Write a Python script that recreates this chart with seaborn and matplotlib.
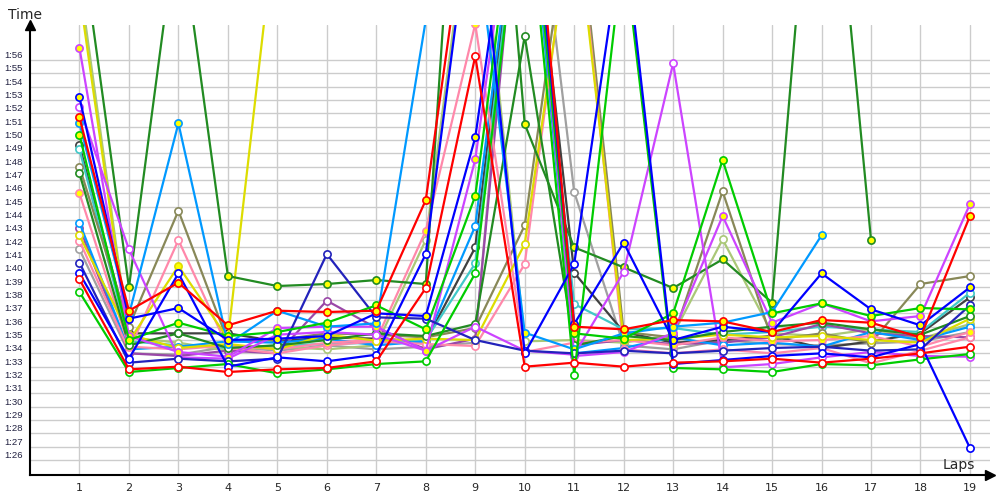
import numpy as np
import pandas as pd
import seaborn as sns
import matplotlib
matplotlib.use("Agg")
import matplotlib.pyplot as plt

# ---------------- data (lap times in seconds) ----------------
nan = np.nan
laps = list(range(1, 20))

red_y = [111.7, 97.2, 99.3, 96.1, 97.2, 97.1, 97.2, 105.5, 132, 138, 96.0, 95.8, 96.5, 96.4, 95.6, 96.5, 96.3, 95.2, 104.3]
red_w = [99.55, 92.8, 93.0, 92.6, 92.8, 92.9, 93.4, 98.9, 116.3, 93.0, 93.3, 93.0, 93.3, 93.4, 93.6, 93.3, 93.6, 94.0, 94.5]
blue_y = [113.2, 96.6, 97.4, 95.0, 95.1, 95.3, 97.0, 96.8, 110.2, 136, 96.2, 102.3, 95.0, 96.0, 95.6, 100.0, 97.3, 96.1, 98.95]
blue_w = [100.0, 93.6, 100.0, 93.0, 93.7, 93.4, 93.9, 101.45, 130, 94.0, 100.7, 126, 93.2, 93.5, 93.8, 94.0, 93.7, 94.7, 86.9]
green_y = [110.4, 95.0, 96.3, 95.3, 95.6, 96.3, 97.6, 95.8, 105.8, 134, 95.5, 95.1, 97.0, 108.5, 97.0, 97.75, 96.8, 97.4, 97.3]
green_w = [98.6, 92.6, 92.9, 93.2, 92.5, 92.8, 93.2, 93.4, 100.0, 131, 92.4, 124.6, 92.9, 92.8, 92.6, 93.2, 93.1, 93.55, 93.95]
dkgreen_y = [126, 98.95, 127, 99.8, 99.05, 99.2, 99.5, 99.2, 155, 111.2, 101.95, 100.45, 98.9, 101.05, 97.8, 141.5, 102.5, nan, nan]
dkgreen_w = [107.5, 94.6, 95.5, 94.4, 94.6, 95.0, 95.5, 95.3, 96.2, 117.8, 94.6, 95.3, 95.0, 95.6, 96.0, 96.3, 95.8, 95.4, 96.8]
yellow_y = [121, 94.9, 100.55, 95.1, 127.5, nan, nan, nan, nan, nan, nan, nan, nan, nan, nan, nan, nan, nan, nan]
yellow_w = [102.85, 95.4, 94.4, 94.7, 94.3, 95.4, 94.95, 95.1, 95.0, 102.2, 128, 95.0, 95.1, 95.4, 95.2, 95.3, 95.0, 94.8, 96.6]
ltblue_y = [111.25, 96.9, 111.25, 94.7, 97.2, 96.0, 96.25, 119, 126, 95.55, 94.3, 95.5, 96.0, 96.3, 97.1, 102.85, nan, nan, nan]
ltblue_w = [103.8, 94.3, 94.5, 94.9, 94.8, 95.1, 94.6, 94.9, 103.55, 133, 94.0, 94.4, 95.2, 94.6, 94.8, 94.5, 95.6, 95.0, 96.0]
pink_y = [106.0, 94.5, 94.3, 94.6, 94.3, 94.8, 95.0, 103.2, 118.7, 94.1, 94.8, 95.0, 94.6, 95.2, 94.9, 95.0, 95.3, 94.5, 95.6]
pink_w = [102.45, 94.2, 102.5, 94.4, 94.0, 94.6, 94.9, 94.7, 94.55, 100.7, 129, 94.3, 94.0, 94.3, 94.0, 94.4, 93.25, 94.2, 95.2]
purple_y = [116.9, 95.3, 94.1, 93.75, 95.9, 96.0, 96.0, 94.2, 108.55, 135, 93.8, 94.1, 95.5, 104.3, 96.3, 97.75, 96.4, 96.8, 105.2]
purple_w = [112.45, 101.8, 93.7, 93.6, 95.4, 95.6, 95.4, 94.2, 96.0, 94.2, 93.9, 100.1, 115.75, 92.95, 93.2, 93.7, 94.1, 93.8, 93.75]
olive_w = [108.0, 96.0, 104.7, 94.9, 95.0, 95.5, 95.4, 95.2, 95.9, 103.6, 130, 95.6, 95.2, 106.15, 95.0, 95.5, 94.8, 99.2, 99.8]
gray_w = [101.8, 94.0, 93.9, 94.5, 94.2, 94.6, 94.3, 94.5, 94.8, 137, 106.1, 94.6, 94.3, 95.0, 94.7, 94.6, 94.75, 94.9, 95.6]
dkgray_w = [109.6, 95.5, 95.5, 95.5, 94.9, 95.2, 95.1, 94.9, 101.95, 133, 100.05, 95.6, 94.8, 95.0, 95.3, 94.4, 94.9, 95.5, 98.2]
cyan_w = [109.3, 94.9, 94.6, 94.4, 94.6, 94.7, 94.8, 95.0, 100.75, 132, 97.7, 95.8, 95.9, 95.4, 95.6, 96.0, 95.8, 95.6, 98.55]
ltolive_w = [122, 95.2, 94.8, 94.2, 94.5, 94.3, 94.6, 102.5, 131, 94.9, 95.0, 94.8, 95.4, 102.55, 95.5, 95.3, 95.8, 95.1, 96.2]
dkblue_w = [100.8, 93.3, 93.6, 93.4, 93.6, 101.45, 96.7, 96.6, 95.0, 94.2, 94.0, 94.2, 94.0, 94.2, 94.4, 94.5, 94.2, 94.3, 97.6]
violet_w = [103.4, 94.0, 93.8, 94.2, 94.0, 97.95, 95.9, 94.3, 95.1, 134, 94.6, 95.0, 94.7, 94.8, 95.2, 96.2, 95.5, 95.3, 95.2]

# (name, times, line colour, marker fill)
drivers = [
    ("gray_w", gray_w, "#a0a0a0", "white"),
    ("dkgray_w", dkgray_w, "#404040", "white"),
    ("cyan_w", cyan_w, "#40c8c8", "white"),
    ("ltolive_w", ltolive_w, "#aac878", "white"),
    ("olive_w", olive_w, "#888858", "white"),
    ("violet_w", violet_w, "#9a48a8", "white"),
    ("ltblue_w", ltblue_w, "#0099ff", "white"),
    ("pink_w", pink_w, "#ff88aa", "white"),
    ("pink_y", pink_y, "#ff88aa", "yellow"),
    ("yellow_w", yellow_w, "#dddd00", "white"),
    ("yellow_y", yellow_y, "#dddd00", "yellow"),
    ("dkgreen_w", dkgreen_w, "#228b22", "white"),
    ("dkgreen_y", dkgreen_y, "#228b22", "yellow"),
    ("purple_w", purple_w, "#cc44ff", "white"),
    ("purple_y", purple_y, "#cc44ff", "yellow"),
    ("ltblue_y", ltblue_y, "#0099ff", "yellow"),
    ("dkblue_w", dkblue_w, "#2222bb", "white"),
    ("green_y", green_y, "#00cc00", "yellow"),
    ("green_w", green_w, "#00cc00", "white"),
    ("blue_y", blue_y, "#0000ff", "yellow"),
    ("blue_w", blue_w, "#0000ff", "white"),
    ("red_y", red_y, "#ff0000", "yellow"),
    ("red_w", red_w, "#ff0000", "white"),
]

rows = []
for name, times, col, fill in drivers:
    for lap, t in zip(laps, times):
        rows.append({"driver": name, "lap": lap, "time": t})
df = pd.DataFrame(rows).dropna()

ytick_vals = list(range(86, 117))
ytick_labels = [f"1:{v - 60:02d}" for v in ytick_vals]

# ---------------- plot ----------------
sns.set_style("white")
plt.rcParams["font.family"] = ["DejaVu Sans"]

fig = plt.figure(figsize=(10, 5), dpi=100)
ax = fig.add_axes([0.03, 0.05, 0.96, 0.90])

for name, times, col, fill in drivers:
    sns.lineplot(data=df[df["driver"] == name], x="lap", y="time", ax=ax,
                 color=col, lw=1.6, marker="o", markersize=5.2,
                 markerfacecolor=fill, markeredgecolor=col, markeredgewidth=1.2,
                 estimator=None, sort=False, legend=False)

ax.set_xlim(0, 19.405)
ax.set_ylim(84.875, 118.63)
ax.set_xticks(laps)
ax.set_xticklabels([str(l) for l in laps], fontsize=8)
ax.set_yticks(ytick_vals)
ax.set_yticklabels(ytick_labels, fontsize=6.8, color="#202040", family="Liberation Sans")
for lbl in ax.get_yticklabels():
    lbl.set_verticalalignment("bottom")
ax.tick_params(axis="both", length=0)
ax.tick_params(axis="y", pad=5)
ax.tick_params(axis="x", pad=6)
ax.set_xlabel("")
ax.set_ylabel("")

ax.grid(True, color="#cccccc", lw=1)
ax.set_axisbelow(True)
for s in ["top", "right"]:
    ax.spines[s].set_visible(False)
for s in ["left", "bottom"]:
    ax.spines[s].set_color("black")
    ax.spines[s].set_linewidth(1.5)

# axis arrows
ax.plot(0, 1, "^", color="black", ms=7, transform=ax.transAxes, clip_on=False)
ax.plot(1, 0, ">", color="black", ms=7, transform=ax.transAxes, clip_on=False)

fig.text(0.008, 0.97, "Time", fontsize=10, va="center", ha="left")
fig.text(0.943, 0.07, "Laps", fontsize=10, va="center", ha="left")

fig.savefig("out.png", dpi=100)
